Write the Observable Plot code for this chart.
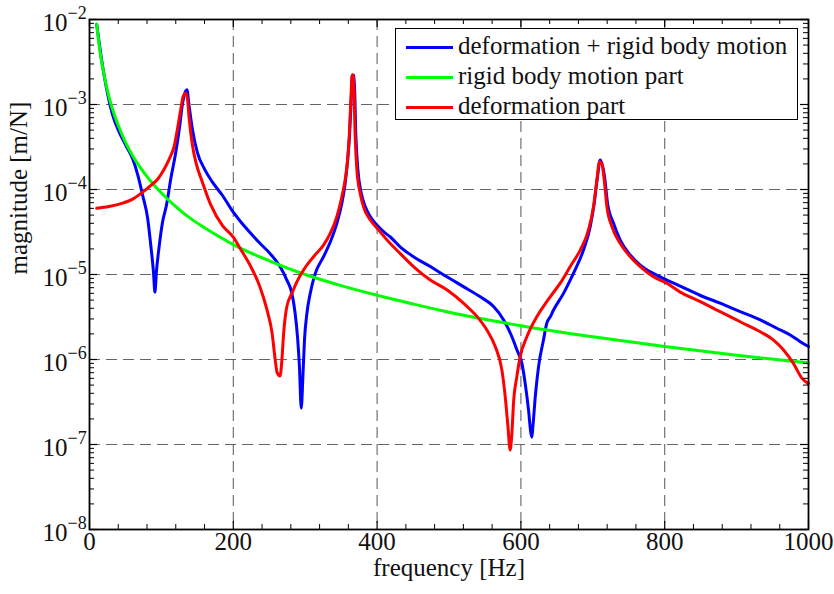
<!DOCTYPE html>
<html>
<head>
<meta charset="utf-8">
<script src="https://cdn.jsdelivr.net/npm/d3@7"></script>
<script src="https://cdn.jsdelivr.net/npm/@observablehq/plot@0.6"></script>
<style>
  html, body { margin: 0; padding: 0; background: #fff; }
  #chart { position: relative; width: 834px; height: 594px; }
  #legend {
    position: absolute; left: 395px; top: 28px; width: 401px; height: 90px;
    border: 1.5px solid #000; background: #fff;
    font-family: "Liberation Serif", "Times New Roman", serif; font-size: 25px; color: #111;
  }
  #legend .row { height: 30px; line-height: 30px; white-space: nowrap; }
  #legend .row:first-child { margin-top: 2px; }
  #legend .sw { display: inline-block; width: 47px; height: 3px; vertical-align: middle; margin: 0 5px 0 10px; position: relative; top: -1px; }
</style>
</head>
<body>
<div id="chart"></div>
<script>
// Axis ticks
const xMajorTicks = [0, 200, 400, 600, 800, 1000];
const xGridTicks = [200, 400, 600, 800];
const xMinorTicks = [40, 80, 120, 160, 240, 280, 320, 360, 440, 480, 520, 560, 640, 680, 720, 760, 840, 880, 920, 960];
const yMajorTicks = [1e-8, 1e-7, 1e-6, 1e-5, 1e-4, 1e-3, 1e-2];
const yGridTicks = [1e-7, 1e-6, 1e-5, 1e-4, 1e-3];

// Series labels and colours
const seriesNames = ["deformation + rigid body motion", "rigid body motion part", "deformation part"];
const seriesColors = ["#0000ff", "#00ff00", "#ff0000"];

// deformation + rigid body motion
const totalFreq = [10, 18, 25, 32, 41, 51, 60, 67, 74, 81, 85, 89, 91, 93, 97, 101.5, 107, 113, 120, 125, 129, 133, 135.5, 138.5, 143, 150, 160, 171, 185, 200, 210, 222, 237, 251, 265, 274.5, 281.5, 286, 289.3, 292, 294.5, 296.8, 299, 302.4, 307, 314, 325.5, 335, 344, 351, 355.6, 359, 361.6, 364, 365.5, 368, 370.5, 373.3, 378, 383.5, 390.4, 400, 409, 418, 432, 450.6, 474, 497, 520, 543, 562, 576, 587.5, 594.4, 601.4, 606, 610.6, 613.9, 615.3, 616.7, 620, 624.5, 631.4, 636, 641, 645.4, 659.3, 673, 687, 696.4, 702, 706.6, 710.3, 716.3, 720.5, 728.8, 738, 752, 766, 784, 803, 821.6, 849, 877, 905, 933, 956, 974.6, 988.5, 1000];
const totalMag = [8.8e-3, 2.9e-3, 1.35e-3, 7.6e-4, 4.8e-4, 3.25e-4, 2.3e-4, 1.5e-4, 8.5e-5, 4.5e-5, 2.3e-5, 1.06e-5, 6.2e-6, 1.06e-5, 2.18e-5, 4.1e-5, 6.5e-5, 1.33e-4, 2.74e-4, 5.2e-4, 9.7e-4, 1.39e-3, 1.49e-3, 9.7e-4, 5.2e-4, 2.74e-4, 1.74e-4, 1.22e-4, 8.5e-5, 5.4e-5, 4.2e-5, 3.2e-5, 2.33e-5, 1.77e-5, 1.24e-5, 8.6e-6, 6.0e-6, 3.5e-6, 1.85e-6, 8.2e-7, 2.67e-7, 6.3e-7, 1.7e-6, 3.5e-6, 6.0e-6, 1.03e-5, 1.62e-5, 2.43e-5, 4.0e-5, 6.9e-5, 1.18e-4, 2.2e-4, 4.2e-4, 1.13e-3, 2.22e-3, 2.2e-3, 4.2e-4, 1.7e-4, 9.0e-5, 6.3e-5, 4.8e-5, 3.8e-5, 3.19e-5, 2.78e-5, 2.12e-5, 1.62e-5, 1.24e-5, 9.4e-6, 7.2e-6, 5.5e-6, 4.2e-6, 2.92e-6, 1.85e-6, 1.3e-6, 9.0e-7, 5.2e-7, 2.55e-7, 1.36e-7, 1.22e-7, 1.62e-7, 3.65e-7, 8.2e-7, 1.7e-6, 2.67e-6, 3.2e-6, 3.82e-6, 6.0e-6, 1.03e-5, 1.94e-5, 3.66e-5, 6.9e-5, 1.42e-4, 2.22e-4, 1.42e-4, 6.9e-5, 4.0e-5, 2.55e-5, 1.7e-5, 1.29e-5, 1.03e-5, 8.6e-6, 7.3e-6, 5.7e-6, 4.6e-6, 3.65e-6, 2.92e-6, 2.33e-6, 1.94e-6, 1.62e-6, 1.42e-6];

// rigid body motion part
const rigidFreq = [10, 15, 20, 25, 30, 40, 50, 60, 70, 80, 90, 100, 120, 140, 160, 180, 200, 250, 300, 350, 400, 450, 500, 600, 700, 800, 900, 1000];
const rigidMag = [8.8e-3, 4.0e-3, 2.3e-3, 1.45e-3, 1.0e-3, 5.7e-4, 3.6e-4, 2.5e-4, 1.85e-4, 1.42e-4, 1.12e-4, 9.1e-5, 6.3e-5, 4.6e-5, 3.55e-5, 2.8e-5, 2.25e-5, 1.45e-5, 1.0e-5, 7.4e-6, 5.7e-6, 4.5e-6, 3.6e-6, 2.5e-6, 1.85e-6, 1.42e-6, 1.12e-6, 9.1e-7];

// deformation part
const deformFreq = [10, 27, 46, 60, 74, 85, 95, 104, 111, 118, 122.4, 127, 130.3, 134, 136.3, 138.7, 143.3, 148, 157, 169, 185, 200, 210, 223, 237, 247, 254, 258.3, 261, 265, 267.6, 270, 274.5, 281.5, 288.4, 297.7, 311.6, 325.5, 334.8, 344, 351, 355.6, 358.9, 361.2, 363.5, 365.4, 367.2, 369.5, 371.9, 376.5, 381, 390.4, 400, 418, 432, 450.6, 474, 497, 520, 539, 552.7, 564.3, 573.6, 578.2, 582, 585, 587.5, 589.7, 594.4, 599, 608.3, 622.3, 636, 641, 654.7, 668.6, 682.5, 694, 701, 705.7, 709.3, 712.7, 715.9, 719.6, 726.6, 738, 752, 766, 784.4, 803, 821.6, 849.4, 877, 905, 933, 951, 965, 979, 991, 1000];
const deformMag = [6.0e-5, 6.3e-5, 6.9e-5, 7.7e-5, 9.3e-5, 1.11e-4, 1.33e-4, 1.74e-4, 2.29e-4, 3.28e-4, 5.2e-4, 8.85e-4, 1.25e-3, 1.36e-3, 1.16e-3, 6.7e-4, 3.28e-4, 2.09e-4, 1.22e-4, 6.5e-5, 3.75e-5, 2.75e-5, 2.0e-5, 1.3e-5, 7.2e-6, 3.8e-6, 2.03e-6, 9.9e-7, 7.0e-7, 6.4e-7, 9.9e-7, 2.03e-6, 4.2e-6, 6.0e-6, 8.2e-6, 1.13e-5, 1.62e-5, 2.22e-5, 3.05e-5, 4.8e-5, 8.2e-5, 1.3e-4, 2.2e-4, 4.2e-4, 1.13e-3, 2.22e-3, 2.2e-3, 4.2e-4, 1.7e-4, 9.0e-5, 6.3e-5, 4.4e-5, 3.5e-5, 2.33e-5, 1.77e-5, 1.24e-5, 8.6e-6, 6.6e-6, 4.6e-6, 3.2e-6, 2.22e-6, 1.42e-6, 7.5e-7, 3.65e-7, 1.62e-7, 8.6e-8, 1.36e-7, 3.05e-7, 6.3e-7, 1.08e-6, 1.85e-6, 3.2e-6, 4.8e-6, 5.5e-6, 7.9e-6, 1.24e-5, 1.94e-5, 3.34e-5, 6.3e-5, 1.3e-4, 2.12e-4, 2.0e-4, 1.3e-4, 6.3e-5, 3.66e-5, 2.33e-5, 1.62e-5, 1.24e-5, 9.4e-6, 7.9e-6, 6.2e-6, 4.8e-6, 3.65e-6, 2.78e-6, 2.12e-6, 1.7e-6, 1.3e-6, 9.0e-7, 6.0e-7, 5.2e-7];

const toRows = (fs, ms) => fs.map((f, i) => ({f, m: ms[i]}));
const totalRows = toRows(totalFreq, totalMag);
const rigidRows = toRows(rigidFreq, rigidMag);
const deformRows = toRows(deformFreq, deformMag);

// log minor ticks between decades
const yMinorTicks = [];
for (const d of yMajorTicks.slice(0, -1)) for (let k = 2; k <= 9; k++) yMinorTicks.push(d * k);

const W = 834, H = 594, mL = 89, mR = 26, mT = 19, mB = 65;
const frameW = W - mL - mR, frameH = H - mT - mB;
const majorLen = 8, minorLen = 5;
const gridStyle = {stroke: "#555", strokeWidth: 1.1, strokeDasharray: "11,6", strokeOpacity: 0.9};
const lineStyle = {strokeWidth: 3, strokeLinejoin: "round", strokeLinecap: "round", curve: "monotone-x"};
const serif = "'Liberation Serif', 'Times New Roman', serif";

const chart = Plot.plot({
  width: W, height: H,
  marginLeft: mL, marginRight: mR, marginTop: mT, marginBottom: mB,
  style: {fontFamily: serif, fontSize: "25px", color: "#111", background: "#fff", overflow: "visible"},
  x: {domain: [0, 1000], axis: null},
  y: {type: "log", domain: [1e-8, 1e-2], axis: null},
  marks: [
    // grid
    Plot.ruleX(xGridTicks, {x: d => d, ...gridStyle}),
    Plot.ruleY(yGridTicks, {y: d => d, ...gridStyle}),
    // curves
    Plot.line(totalRows, {x: "f", y: "m", stroke: seriesColors[0], ...lineStyle}),
    Plot.line(rigidRows, {x: "f", y: "m", stroke: seriesColors[1], ...lineStyle}),
    Plot.line(deformRows, {x: "f", y: "m", stroke: seriesColors[2], ...lineStyle}),
    // inward ticks on all four sides
    Plot.tickX(xMajorTicks, {x: d => d, insetTop: frameH - majorLen, stroke: "#000", strokeWidth: 1.2}),
    Plot.tickX(xMajorTicks, {x: d => d, insetBottom: frameH - majorLen, stroke: "#000", strokeWidth: 1.2}),
    Plot.tickX(xMinorTicks, {x: d => d, insetTop: frameH - minorLen, stroke: "#000", strokeWidth: 1}),
    Plot.tickX(xMinorTicks, {x: d => d, insetBottom: frameH - minorLen, stroke: "#000", strokeWidth: 1}),
    Plot.tickY(yMajorTicks, {y: d => d, insetRight: frameW - majorLen, stroke: "#000", strokeWidth: 1.2}),
    Plot.tickY(yMajorTicks, {y: d => d, insetLeft: frameW - majorLen, stroke: "#000", strokeWidth: 1.2}),
    Plot.tickY(yMinorTicks, {y: d => d, insetRight: frameW - minorLen, stroke: "#000", strokeWidth: 1}),
    Plot.tickY(yMinorTicks, {y: d => d, insetLeft: frameW - minorLen, stroke: "#000", strokeWidth: 1}),
    Plot.frame({stroke: "#000", strokeWidth: 1.8}),
    // x tick labels
    Plot.text(xMajorTicks, {x: d => d, text: d => String(d), frameAnchor: "bottom", dy: 20, fill: "#111"}),
    // y tick labels: base and superscript exponent
    Plot.text(yMajorTicks, {y: d => d, text: () => "10", frameAnchor: "left", textAnchor: "end", dx: -22, dy: 3, fill: "#111"}),
    Plot.text(yMajorTicks, {y: d => d, text: d => "\u2212" + Math.abs(Math.round(Math.log10(d))), frameAnchor: "left", textAnchor: "start", dx: -22, dy: -6, fontSize: 18, fill: "#111"}),
    // axis titles
    Plot.text(["frequency [Hz]"], {frameAnchor: "bottom", dy: 46, fill: "#111"}),
    Plot.text(["magnitude [m/N]"], {frameAnchor: "left", rotate: -90, dx: -71, fill: "#111"})
  ]
});

const host = document.getElementById("chart");
host.appendChild(chart);

// legend
const legend = document.createElement("div");
legend.id = "legend";
seriesNames.forEach((name, i) => {
  const row = document.createElement("div");
  row.className = "row";
  const sw = document.createElement("span");
  sw.className = "sw";
  sw.style.background = seriesColors[i];
  row.appendChild(sw);
  row.appendChild(document.createTextNode(name));
  legend.appendChild(row);
});
host.appendChild(legend);
</script>
</body>
</html>
